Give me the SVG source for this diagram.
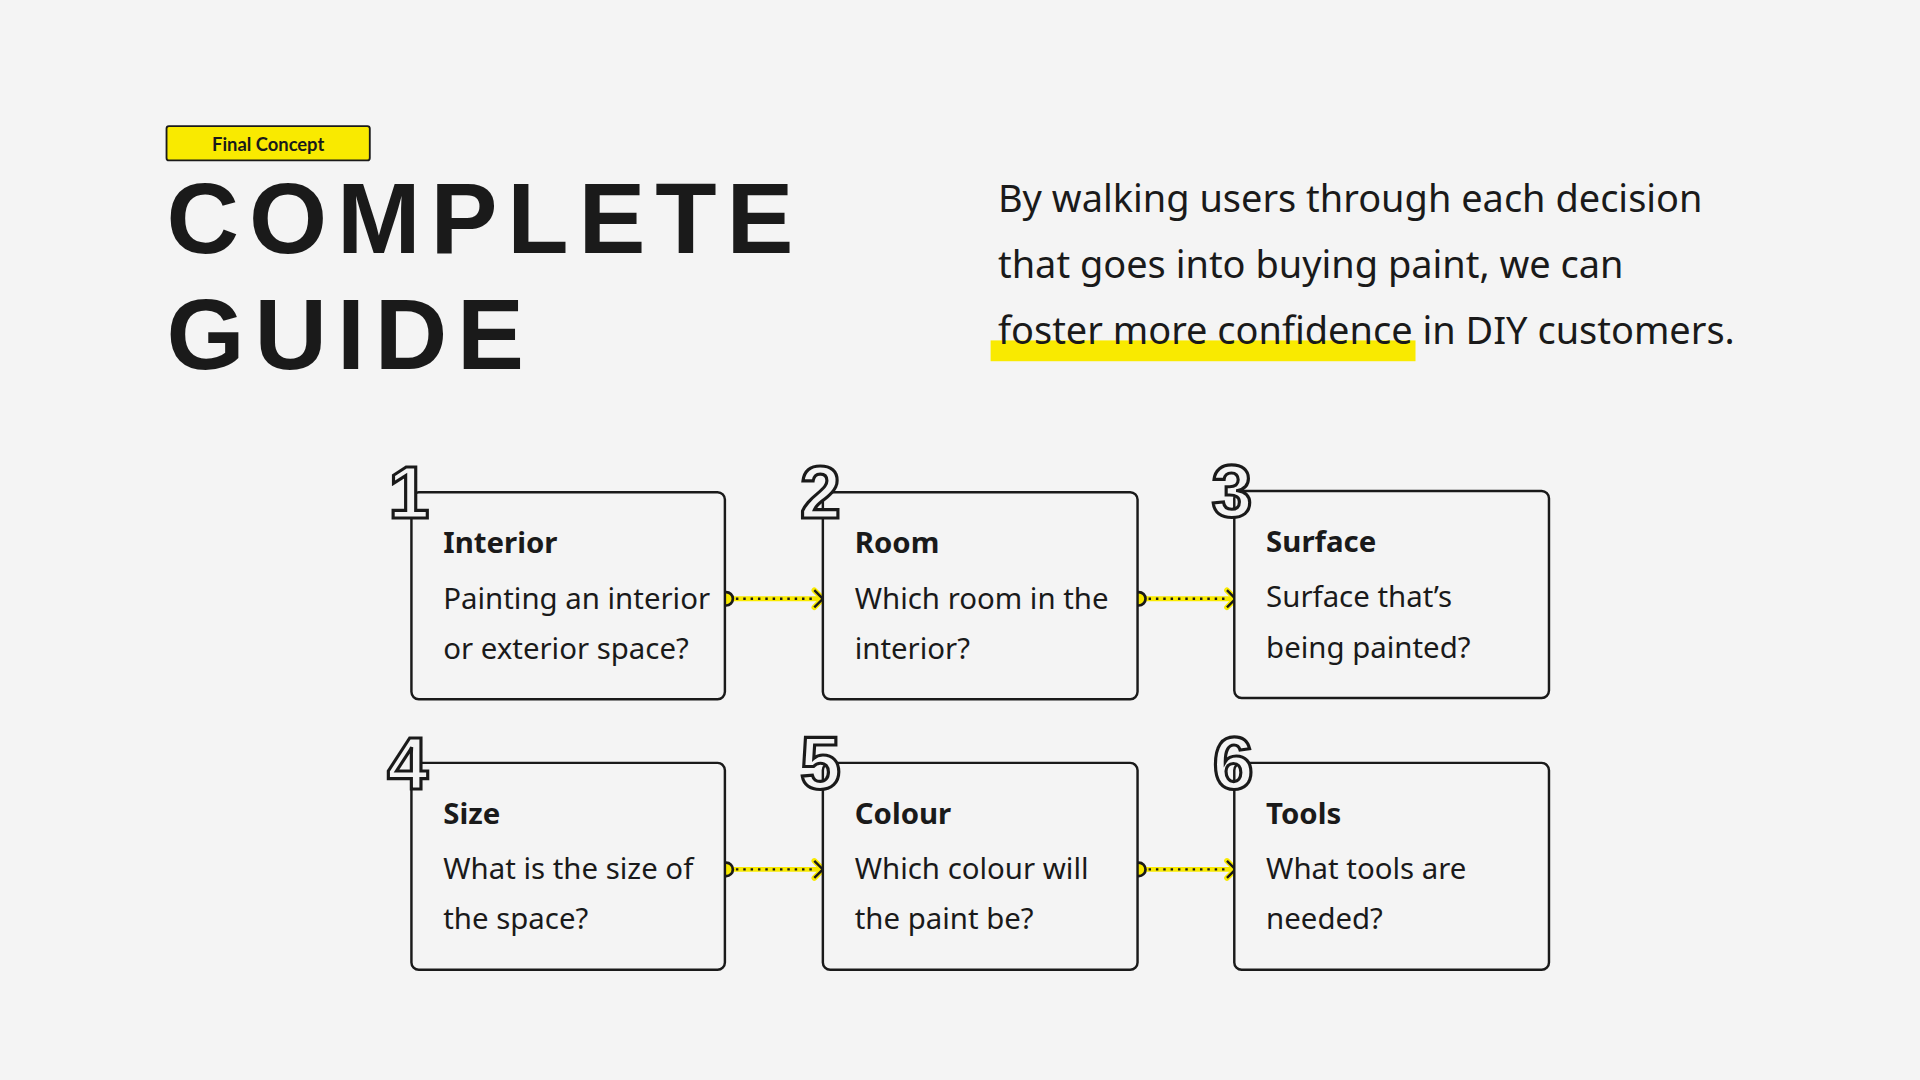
<svg xmlns="http://www.w3.org/2000/svg" width="1920" height="1080" viewBox="0 0 1920 1080">
<style>
.box{fill:#f4f4f4;stroke:#1a1a1a;stroke-width:2}
.num{font-family:"Liberation Sans",Arial,sans-serif;font-weight:bold;font-size:60px;fill:#f4f4f4;stroke:#1a1a1a;stroke-width:2.6px;text-anchor:middle}
.ttl{font-family:"Noto Sans","Open Sans",sans-serif;font-weight:bold;font-size:24px;fill:#1a1a1a}
.body{font-family:"Noto Sans","Open Sans",sans-serif;font-size:24px;fill:#1a1a1a}
.big{font-family:"Liberation Sans",Arial,sans-serif;font-weight:bold;font-size:82px;fill:#1a1a1a}
.para{font-family:"Noto Sans","Open Sans",sans-serif;font-size:31px;fill:#1a1a1a}
</style>
<defs>
<g id="conn">
<line x1="0" y1="0" x2="78" y2="0" stroke="#f9ea00" stroke-width="4"/>
<line x1="8" y1="0" x2="74" y2="0" stroke="#1a1a1a" stroke-width="2" stroke-dasharray="2 4"/>
<polyline points="72,-7 79,0 72,7" fill="none" stroke="#f9ea00" stroke-width="4.5" stroke-linecap="round"/>
<polyline points="72,-7 79,0 72,7" fill="none" stroke="#1a1a1a" stroke-width="2"/>
<circle cx="0" cy="0" r="5.5" fill="#f9ea00" stroke="#1a1a1a" stroke-width="2.2"/>
</g>
</defs>
<rect width="1920" height="1080" fill="#f4f4f4"/>
<g transform="scale(1.22449)">
<g id="header">
<rect x="136" y="103" width="166" height="28" rx="2" fill="#f9ea00" stroke="#1a1a1a" stroke-width="1.5"/>
<text x="219" y="123" text-anchor="middle" font-family="Lato,'Noto Sans',sans-serif" font-weight="bold" font-size="15" fill="#1a1a1a">Final Concept</text>
<text class="big" x="136" y="207" textLength="512" lengthAdjust="spacing">COMPLETE</text>
<text class="big" x="136" y="301" textLength="292" lengthAdjust="spacing">GUIDE</text>
<rect x="809" y="278" width="347" height="17" fill="#f9ea00"/>
<text class="para" x="815" y="173">By walking users through each decision</text>
<text class="para" x="815" y="227">that goes into buying paint, we can</text>
<text class="para" x="815" y="281">foster more confidence in DIY customers.</text>
</g>
<g id="connectors">
<use href="#conn" x="593" y="489"/>
<use href="#conn" x="930" y="489"/>
<use href="#conn" x="593" y="710"/>
<use href="#conn" x="930" y="710"/>
</g>
<g id="n1"><rect class="box" x="336" y="402" width="256" height="169" rx="6"/><text class="num" x="334" y="423">1</text>
<text class="ttl" x="362" y="452">Interior</text><text class="body" x="362" y="497">Painting an interior</text><text class="body" x="362" y="538">or exterior space?</text></g>
<g id="n2"><rect class="box" x="672" y="402" width="257" height="169" rx="6"/><text class="num" x="670" y="423">2</text>
<text class="ttl" x="698" y="452">Room</text><text class="body" x="698" y="497">Which room in the</text><text class="body" x="698" y="538">interior?</text></g>
<g id="n3"><rect class="box" x="1008" y="401" width="257" height="169" rx="6"/><text class="num" x="1006" y="422">3</text>
<text class="ttl" x="1034" y="451">Surface</text><text class="body" x="1034" y="496">Surface that’s</text><text class="body" x="1034" y="537">being painted?</text></g>
<g id="n4"><rect class="box" x="336" y="623" width="256" height="169" rx="6"/><text class="num" x="333" y="644">4</text>
<text class="ttl" x="362" y="673">Size</text><text class="body" x="362" y="718">What is the size of</text><text class="body" x="362" y="759">the space?</text></g>
<g id="n5"><rect class="box" x="672" y="623" width="257" height="169" rx="6"/><text class="num" x="670" y="644">5</text>
<text class="ttl" x="698" y="673">Colour</text><text class="body" x="698" y="718">Which colour will</text><text class="body" x="698" y="759">the paint be?</text></g>
<g id="n6"><rect class="box" x="1008" y="623" width="257" height="169" rx="6"/><text class="num" x="1007" y="644">6</text>
<text class="ttl" x="1034" y="673">Tools</text><text class="body" x="1034" y="718">What tools are</text><text class="body" x="1034" y="759">needed?</text></g>
</g>
</svg>
